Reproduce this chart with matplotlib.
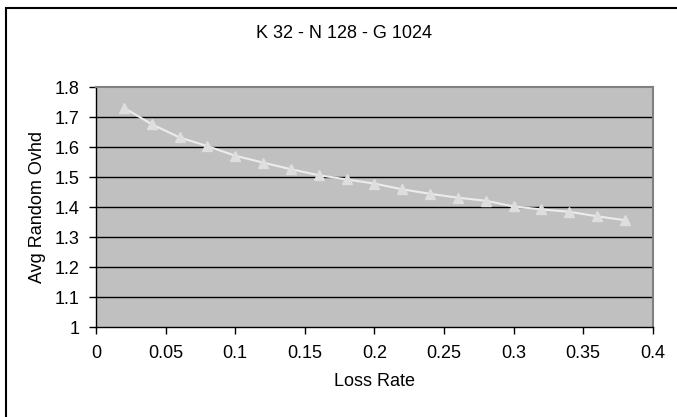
import matplotlib.pyplot as plt
from matplotlib.patches import Rectangle

plt.rcParams['font.family'] = ['Liberation Sans', 'DejaVu Sans']

# donnees
loss_rate = [0.02, 0.04, 0.06, 0.08, 0.10, 0.12, 0.14, 0.16, 0.18, 0.20,
             0.22, 0.24, 0.26, 0.28, 0.30, 0.32, 0.34, 0.36, 0.38]
avg_ovhd = [1.732, 1.677, 1.633, 1.604, 1.572, 1.549, 1.527, 1.507, 1.493, 1.479,
            1.460, 1.445, 1.432, 1.422, 1.403, 1.393, 1.385, 1.370, 1.357]

xticks = [0, 0.05, 0.1, 0.15, 0.2, 0.25, 0.3, 0.35, 0.4]
xtick_labels = ['0', '0.05', '0.1', '0.15', '0.2', '0.25', '0.3', '0.35', '0.4']
yticks = [1, 1.1, 1.2, 1.3, 1.4, 1.5, 1.6, 1.7, 1.8]
ytick_labels = ['1', '1.1', '1.2', '1.3', '1.4', '1.5', '1.6', '1.7', '1.8']

fig = plt.figure(figsize=(6.77, 4.17), dpi=100)
# cadre exterieur (coupe a droite et en bas)
fig.patches.append(Rectangle((6 / 677, -0.1), 1.2, 1 - 8 / 417 + 0.1,
                             transform=fig.transFigure, fill=False,
                             edgecolor='black', linewidth=1.5))

ax = fig.add_axes([96 / 677, 1 - 327.3 / 417, (652.7 - 96) / 677, (327.3 - 87.3) / 417])
ax.set_facecolor('#c0c0c0')

for y in yticks[1:-1]:
    ax.axhline(y, color='black', linewidth=1, zorder=1)

ax.plot(loss_rate, avg_ovhd, color='#ececec', linewidth=1.5, marker='^',
        markersize=7, markerfacecolor='#dedede', markeredgecolor='#dedede', zorder=3)

ax.set_xlim(0, 0.4)
ax.set_ylim(1, 1.8)
ax.set_xticks(xticks)
ax.set_xticklabels(xtick_labels)
ax.set_yticks(yticks)
ax.set_yticklabels(ytick_labels)
ax.tick_params(direction='out', length=5, width=1, labelsize=13)
ax.tick_params(axis='x', pad=8)
ax.tick_params(axis='y', pad=7)

ax.spines['top'].set_color('#808080')
ax.spines['right'].set_color('#808080')
ax.spines['top'].set_linewidth(1.5)
ax.spines['right'].set_linewidth(1.5)
ax.spines['left'].set_linewidth(1)
ax.spines['bottom'].set_linewidth(1)

ax.set_xlabel('Loss Rate', fontsize=13, labelpad=7.5)
ax.set_ylabel('Avg Random Ovhd', fontsize=13, labelpad=6)
fig.text(344.5 / 677, 1 - 38.3 / 417, 'K 32 - N 128 - G 1024', fontsize=13,
         ha='center', va='baseline')

fig.savefig('out.png', dpi=100)
